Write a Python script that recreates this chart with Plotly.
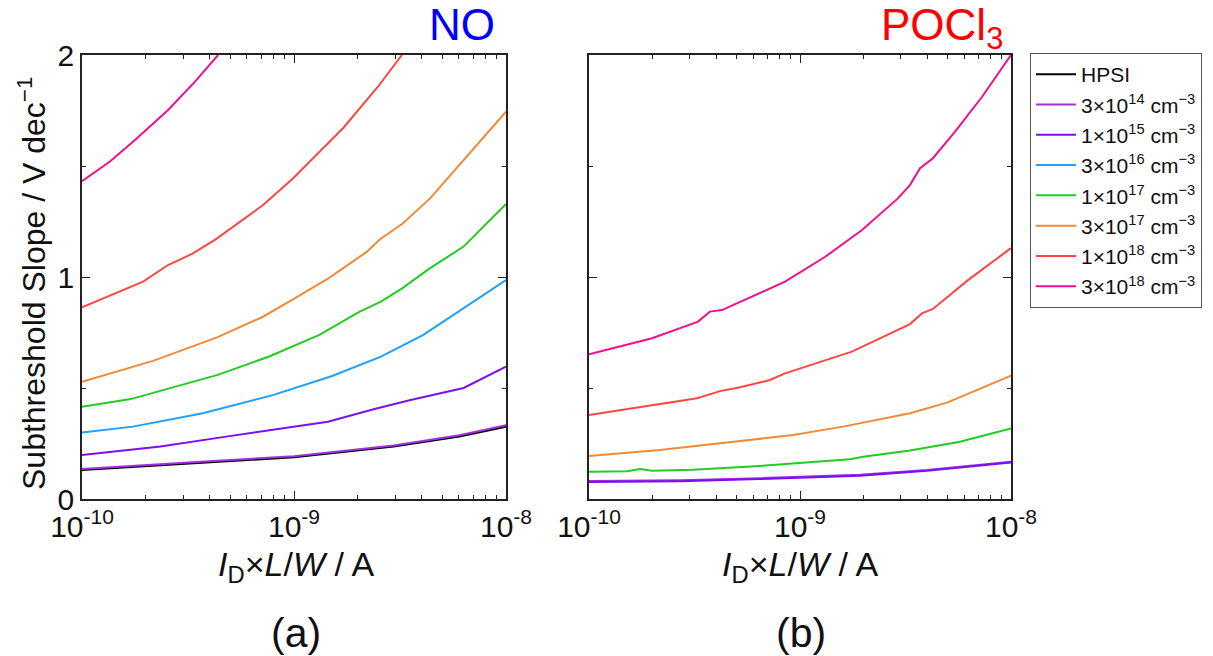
import plotly.graph_objects as go

# ---------------- data (x given as log10 of I_D*L/W in A) ----------------
names = ["HPSI", "3×10<sup>14</sup> cm<sup>−3</sup>", "1×10<sup>15</sup> cm<sup>−3</sup>",
         "3×10<sup>16</sup> cm<sup>−3</sup>", "1×10<sup>17</sup> cm<sup>−3</sup>",
         "3×10<sup>17</sup> cm<sup>−3</sup>", "1×10<sup>18</sup> cm<sup>−3</sup>",
         "3×10<sup>18</sup> cm<sup>−3</sup>"]
colors = ["#000000", "#A030E0", "#7A10F0", "#1EA0FF", "#22CC22", "#F08A38", "#FF4545", "#F0108C"]

# panel (a) NO
a_hpsi_x = [-10, -9.79, -9.48, -9.0, -8.53, -8.22, -8.0]
a_hpsi_y = [0.131, 0.143, 0.160, 0.188, 0.236, 0.281, 0.326]
a_3e14_x = [-10, -9.79, -9.48, -9.0, -8.53, -8.22, -8.0]
a_3e14_y = [0.135, 0.148, 0.165, 0.193, 0.241, 0.287, 0.332]
a_1e15_x = [-10, -9.63, -9.32, -8.84, -8.62, -8.45, -8.20, -8.0]
a_1e15_y = [0.198, 0.236, 0.281, 0.348, 0.405, 0.446, 0.50, 0.596]
a_3e16_x = [-10, -9.76, -9.43, -9.10, -8.82, -8.59, -8.39, -8.20, -8.0]
a_3e16_y = [0.299, 0.326, 0.386, 0.468, 0.554, 0.641, 0.739, 0.859, 0.986]
a_1e17_x = [-10, -9.77, -9.36, -9.12, -8.88, -8.69, -8.59, -8.49, -8.36, -8.20, -8.0]
a_1e17_y = [0.416, 0.45, 0.559, 0.641, 0.739, 0.844, 0.889, 0.949, 1.039, 1.137, 1.329]
a_3e17_x = [-10, -9.665, -9.363, -9.146, -9.005, -8.844, -8.783, -8.656, -8.594, -8.486, -8.358, -8.17, -8.0]
a_3e17_y = [0.528, 0.622, 0.728, 0.821, 0.899, 0.99, 1.03, 1.114, 1.17, 1.242, 1.354, 1.557, 1.745]
a_1e18_x = [-10, -9.712, -9.594, -9.481, -9.373, -9.146, -9.005, -8.769, -8.604, -8.491]
a_1e18_y = [0.863, 0.979, 1.054, 1.104, 1.167, 1.324, 1.444, 1.67, 1.857, 2.0]
a_3e18_x = [-10, -9.868, -9.75, -9.594, -9.467, -9.358]
a_3e18_y = [1.432, 1.52, 1.617, 1.752, 1.88, 2.0]

# panel (b) POCl3
b_3e14_x = [-10, -9.569, -9.19, -8.716, -8.398, -8.0]
b_3e14_y = [0.081, 0.084, 0.094, 0.109, 0.131, 0.168]
b_1e15_x = [-10, -9.569, -9.19, -8.716, -8.398, -8.0]
b_1e15_y = [0.077, 0.080, 0.090, 0.105, 0.127, 0.164]
b_1e17_x = [-10, -9.82, -9.758, -9.701, -9.507, -9.19, -8.763, -8.701, -8.479, -8.242, -8.0]
b_1e17_y = [0.123, 0.125, 0.135, 0.127, 0.132, 0.149, 0.179, 0.19, 0.218, 0.258, 0.318]
b_3e17_x = [-10, -9.664, -9.346, -9.033, -8.796, -8.479, -8.303, -8.0]
b_3e17_y = [0.194, 0.221, 0.254, 0.288, 0.326, 0.386, 0.434, 0.555]
b_1e18_x = [-10, -9.488, -9.379, -9.284, -9.142, -9.071, -8.754, -8.597, -8.479, -8.422, -8.370, -8.204, -8.0]
b_1e18_y = [0.378, 0.454, 0.486, 0.503, 0.536, 0.566, 0.664, 0.734, 0.788, 0.836, 0.856, 0.986, 1.13]
b_3e18_x = [-10, -9.701, -9.483, -9.427, -9.370, -9.227, -9.071, -8.882, -8.706, -8.536, -8.479, -8.431, -8.370, -8.265, -8.137, -8.0]
b_3e18_y = [0.652, 0.724, 0.799, 0.844, 0.851, 0.911, 0.979, 1.09, 1.212, 1.354, 1.414, 1.49, 1.535, 1.655, 1.812, 2.0]

xtick_vals = [1e-10, 1e-9, 1e-8]
xtick_text = ["10<sup>-10</sup>", "10<sup>-9</sup>", "10<sup>-8</sup>"]
xminor_vals = [m * 1e-10 for m in range(2, 10)] + [m * 1e-9 for m in range(2, 10)]
ytick_vals = [0, 1, 2]
yminor_vals = [0.5, 1.5]

FONT = "Liberation Sans, Arial, sans-serif"
W, H = 1213, 656

fig = go.Figure()

panel_a = [(a_hpsi_x, a_hpsi_y, 0), (a_3e14_x, a_3e14_y, 1), (a_1e15_x, a_1e15_y, 2),
           (a_3e16_x, a_3e16_y, 3), (a_1e17_x, a_1e17_y, 4), (a_3e17_x, a_3e17_y, 5),
           (a_1e18_x, a_1e18_y, 6), (a_3e18_x, a_3e18_y, 7)]
for xs, ys, i in panel_a:
    fig.add_trace(go.Scatter(x=[10 ** v for v in xs], y=ys, mode="lines", name=names[i],
                             line=dict(color=colors[i], width=2), xaxis="x", yaxis="y",
                             showlegend=True))

panel_b = [(b_3e14_x, b_3e14_y, 1), (b_1e15_x, b_1e15_y, 2), (b_1e17_x, b_1e17_y, 4),
           (b_3e17_x, b_3e17_y, 5), (b_1e18_x, b_1e18_y, 6), (b_3e18_x, b_3e18_y, 7)]
for xs, ys, i in panel_b:
    fig.add_trace(go.Scatter(x=[10 ** v for v in xs], y=ys, mode="lines", name=names[i],
                             line=dict(color=colors[i], width=2), xaxis="x2", yaxis="y2",
                             showlegend=False))

def px_x(p):
    return p / W

def px_y(p):
    return 1 - p / H

axis_common = dict(showline=True, linecolor="#222", linewidth=1.5, mirror="allticks",
                   ticks="inside", ticklen=8, tickwidth=1.3, tickcolor="#222",
                   showgrid=False, zeroline=False, automargin=False,
                   tickfont=dict(family=FONT, size=30, color="#111"))

xa = dict(axis_common, type="log", range=[-10, -8], tickmode="array",
          tickvals=xtick_vals, ticktext=xtick_text,
          minor=dict(tickmode="array", tickvals=xminor_vals, ticks="inside", ticklen=4,
                     tickwidth=1.1, tickcolor="#222", showgrid=False))
ya = dict(axis_common, range=[0, 2], tickmode="array", tickvals=ytick_vals,
          minor=dict(tickmode="array", tickvals=yminor_vals, ticks="inside", ticklen=4,
                     tickwidth=1.1, tickcolor="#222", showgrid=False))

fig.update_layout(
    width=W, height=H,
    margin=dict(l=0, r=0, t=0, b=0, autoexpand=False),
    paper_bgcolor="white", plot_bgcolor="white",
    font=dict(family=FONT, color="#111"),
    xaxis=dict(xa, domain=[px_x(82), px_x(506)], anchor="y"),
    yaxis=dict(ya, domain=[px_y(499), px_y(55)], anchor="x"),
    xaxis2=dict(xa, domain=[px_x(589), px_x(1011)], anchor="y2"),
    yaxis2=dict(ya, domain=[px_y(499), px_y(55)], anchor="x2", showticklabels=False),
    legend=dict(x=px_x(1030), y=px_y(53), xanchor="left", yanchor="top",
                bordercolor="#555", borderwidth=1, bgcolor="white",
                font=dict(family=FONT, size=21, color="#111"),
                itemwidth=40, tracegroupgap=0),
    showlegend=True,
)

ann = []
ann.append(dict(text="NO", x=px_x(497), y=px_y(24), xanchor="right", yanchor="middle",
                font=dict(family=FONT, size=44, color="#0000FF")))
ann.append(dict(text="POCl<sub>3</sub>", x=px_x(1005), y=px_y(28), xanchor="right", yanchor="middle",
                font=dict(family=FONT, size=44, color="#FF0000")))
for cx in (296, 800):
    ann.append(dict(text="<i>I</i><sub>D</sub>×<i>L</i>/<i>W</i> / A", x=px_x(cx), y=px_y(566),
                    xanchor="center", yanchor="middle",
                    font=dict(family=FONT, size=34, color="#111")))
ann.append(dict(text="(a)", x=px_x(296), y=px_y(633), xanchor="center", yanchor="middle",
                font=dict(family=FONT, size=41, color="#111")))
ann.append(dict(text="(b)", x=px_x(801), y=px_y(633), xanchor="center", yanchor="middle",
                font=dict(family=FONT, size=41, color="#111")))
ann.append(dict(text="Subthreshold Slope / V dec<sup>−1</sup>", x=px_x(32), y=px_y(284),
                xanchor="center", yanchor="middle", textangle=-90,
                font=dict(family=FONT, size=32, color="#111")))
for a in ann:
    a.update(xref="paper", yref="paper", showarrow=False)
fig.update_layout(annotations=ann)

fig.write_html("out.html")
